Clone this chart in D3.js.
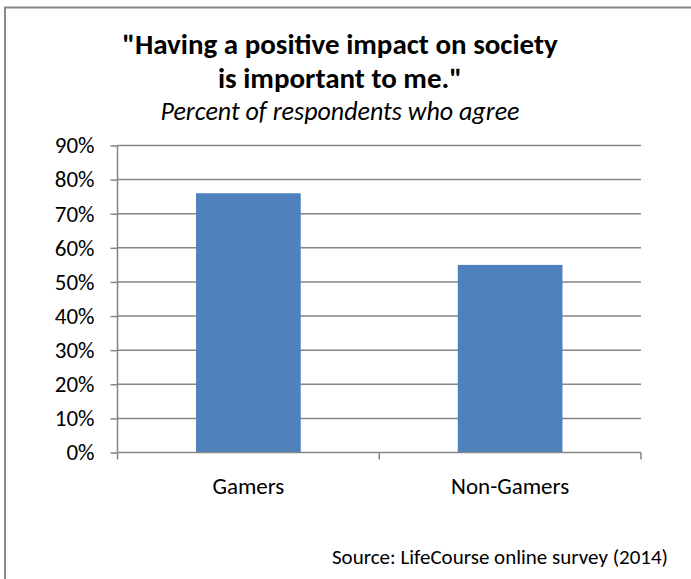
<!DOCTYPE html>
<html>
<head>
<meta charset="utf-8">
<script src="https://cdn.jsdelivr.net/npm/d3@7"></script>
<style>
  html, body { margin: 0; padding: 0; background: #fff; }
  svg { display: block; }
  text { font-family: Carlito, Calibri, Lato, sans-serif; fill: #000; }
</style>
</head>
<body>
<script>
// Survey answers: share of respondents who agree
const categories = ["Gamers", "Non-Gamers"];
const agreeShare = [0.76, 0.55];
const yTicks = [0, 0.1, 0.2, 0.3, 0.4, 0.5, 0.6, 0.7, 0.8, 0.9];
const titleLines = ["\"Having a positive impact on society", "is important to me.\""];
const subtitle = "Percent of respondents who agree";
const sourceNote = "Source: LifeCourse online survey (2014)";

const W = 691, H = 579;
const plot = { left: 117.5, right: 641, top: 145.5, bottom: 452.5 };
const gridColor = "#868686";
const barColor = "#4F81BD";

const svg = d3.select("body").append("svg")
  .attr("width", W).attr("height", H);

// Chart frame
svg.append("rect")
  .attr("x", 5).attr("y", 7.5)
  .attr("width", W + 20).attr("height", H + 20)
  .attr("fill", "none")
  .attr("stroke", "#8a8a8a").attr("stroke-width", 2);

const x = d3.scaleBand()
  .domain(categories)
  .range([plot.left, plot.right])
  .paddingInner(0.6)
  .paddingOuter(0.3);

const y = d3.scaleLinear()
  .domain([0, 0.9])
  .range([plot.bottom, plot.top]);

// Horizontal gridlines
svg.append("g")
  .selectAll("line")
  .data(yTicks.filter(d => d > 0))
  .join("line")
  .attr("x1", plot.left).attr("x2", plot.right)
  .attr("y1", d => y(d)).attr("y2", d => y(d))
  .attr("stroke", gridColor).attr("stroke-width", 1.5);

// Bars
svg.append("g")
  .selectAll("rect")
  .data(categories.map((c, i) => ({ c, v: agreeShare[i] })))
  .join("rect")
  .attr("x", d => x(d.c))
  .attr("width", x.bandwidth())
  .attr("y", d => y(d.v))
  .attr("height", d => y(0) - y(d.v))
  .attr("fill", barColor);

// Y axis
const yAxis = d3.axisLeft(y)
  .tickValues(yTicks)
  .tickFormat(d3.format(".0%"))
  .tickSize(7)
  .tickPadding(16);

const gy = svg.append("g")
  .attr("transform", `translate(${plot.left},0)`)
  .call(yAxis);
gy.select(".domain").attr("stroke", gridColor).attr("stroke-width", 1.5)
  .attr("d", `M0,${plot.top}V${plot.bottom}`);
gy.selectAll(".tick line").attr("stroke", gridColor).attr("stroke-width", 1.5);
gy.selectAll(".tick text")
  .attr("font-size", 23)
  .attr("font-family", "Carlito, Calibri, Lato, sans-serif")
  .attr("fill", "#000");

// X axis: baseline with ticks at category boundaries
const gx = svg.append("g")
  .attr("transform", `translate(0,${plot.bottom})`);
gx.append("line")
  .attr("x1", plot.left).attr("x2", plot.right)
  .attr("stroke", gridColor).attr("stroke-width", 1.5);
const step = x.step();
const boundaries = d3.range(categories.length + 1)
  .map(i => x(categories[0]) - x.paddingOuter() * step + i * step);
gx.selectAll("line.tick")
  .data(boundaries)
  .join("line")
  .attr("class", "tick")
  .attr("x1", d => d).attr("x2", d => d)
  .attr("y1", 0).attr("y2", 7)
  .attr("stroke", gridColor).attr("stroke-width", 1.5);
gx.selectAll("text")
  .data(categories)
  .join("text")
  .attr("x", d => x(d) + x.bandwidth() / 2)
  .attr("y", 41)
  .attr("text-anchor", "middle")
  .attr("font-size", 23)
  .text(d => d);

// Titles
const cx = 340;
svg.append("text")
  .attr("x", cx).attr("y", 54)
  .attr("text-anchor", "middle")
  .attr("font-size", 29).attr("font-weight", "bold")
  .text(titleLines[0]);
svg.append("text")
  .attr("x", cx).attr("y", 88)
  .attr("text-anchor", "middle")
  .attr("font-size", 29).attr("font-weight", "bold")
  .text(titleLines[1]);
svg.append("text")
  .attr("x", cx).attr("y", 120)
  .attr("text-anchor", "middle")
  .attr("font-size", 26).attr("font-style", "italic")
  .text(subtitle);

// Source note
svg.append("text")
  .attr("x", 668).attr("y", 564)
  .attr("text-anchor", "end")
  .attr("font-size", 21)
  .text(sourceNote);
</script>
</body>
</html>
